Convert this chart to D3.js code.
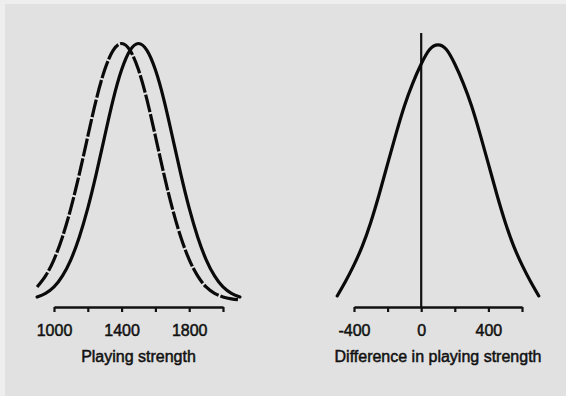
<!DOCTYPE html>
<html><head><meta charset="utf-8">
<script src="https://cdn.jsdelivr.net/npm/d3@7/dist/d3.min.js"></script>
<style>html,body{margin:0;padding:0;background:#e2e2e2;} svg{display:block}</style>
</head><body><svg id="c" width="566" height="396"></svg>
<script>
// ---- Data ----
// Left panel: two playing-strength distributions (relative density, peak = 1)
const leftTickValues = [1000, 1200, 1400, 1600, 1800, 2000];
const leftTickLabels = ["1000", "", "1400", "", "1800", ""];
const dashedX = [900, 950, 1000, 1050, 1100, 1150, 1200, 1250, 1300, 1350, 1400, 1450, 1500, 1550, 1600, 1650, 1700, 1750, 1800, 1850, 1900, 1950, 2000, 2050, 2100];
const dashedY = [0.076, 0.118, 0.180, 0.266, 0.375, 0.505, 0.648, 0.787, 0.900, 0.974, 1.000, 0.974, 0.900, 0.787, 0.648, 0.505, 0.375, 0.266, 0.180, 0.118, 0.076, 0.052, 0.038, 0.031, 0.027];
const solidX = [900, 950, 1000, 1050, 1100, 1150, 1200, 1250, 1300, 1350, 1400, 1450, 1500, 1550, 1600, 1650, 1700, 1750, 1800, 1850, 1900, 1950, 2000, 2050, 2100];
const solidY = [0.038, 0.052, 0.076, 0.118, 0.180, 0.266, 0.375, 0.505, 0.648, 0.787, 0.900, 0.974, 1.000, 0.974, 0.900, 0.787, 0.648, 0.505, 0.375, 0.266, 0.180, 0.118, 0.076, 0.052, 0.038];
const leftTitle = "Playing strength";

// Right panel: distribution of the difference
const rightTickValues = [-400, -200, 0, 200, 400, 600];
const rightTickLabels = ["-400", "", "0", "", "400", ""];
const diffX = [-500, -450, -400, -350, -300, -250, -200, -150, -100, -50, 0, 50, 100, 150, 200, 250, 300, 350, 400, 450, 500, 550, 600, 650, 700];
const diffY = [0.042, 0.098, 0.160, 0.232, 0.322, 0.428, 0.543, 0.657, 0.763, 0.850, 0.922, 0.977, 0.995, 0.977, 0.922, 0.850, 0.763, 0.657, 0.543, 0.428, 0.322, 0.232, 0.160, 0.098, 0.042];
const zeroLineX = 0;
const zeroLineTop = 1.04;
const rightTitle = "Difference in playing strength";

// ---- Drawing ----
const svg = d3.select("#c");
const FONT = "'Liberation Sans', Arial, Helvetica, sans-serif";

svg.append("rect").attr("x", 0).attr("y", 0).attr("width", 566).attr("height", 396).attr("fill", "#eeeeee");
svg.append("rect").attr("x", 5).attr("y", 4).attr("width", 561).attr("height", 392).attr("fill", "#e1e1e1");

const y = d3.scaleLinear().domain([0, 1]).range([307, 43.5]);
const xL = d3.scaleLinear().domain([1000, 2000]).range([54, 223]);
const xR = d3.scaleLinear().domain([-400, 600]).range([354, 522]);

function styleText(sel) {
  sel.attr("fill", "#111").attr("stroke", "#111").attr("stroke-width", 0.5)
    .style("font-family", FONT).style("font-size", "16px");
}

function drawAxis(x, tickValues, tickLabels, title) {
  const axis = d3.axisBottom(x)
    .tickValues(tickValues)
    .tickFormat((d, i) => tickLabels[i])
    .tickSizeInner(5).tickSizeOuter(0).tickPadding(12.5);
  const g = svg.append("g").attr("transform", "translate(0,307)").call(axis);
  g.select(".domain").attr("stroke", "#111").attr("stroke-width", 2.6);
  g.selectAll(".tick line").attr("stroke", "#111").attr("stroke-width", 2.2);
  styleText(g.selectAll(".tick text"));
  const r = x.range();
  styleText(svg.append("text").attr("x", (r[0] + r[1]) / 2).attr("y", 362)
    .attr("text-anchor", "middle").text(title));
}

function drawCurve(x, xs, ys, dashed) {
  const pts = xs.map((v, i) => [v, ys[i]]);
  const line = d3.line().x(d => x(d[0])).y(d => y(d[1])).curve(d3.curveNatural);
  const p = svg.append("path").attr("d", line(pts)).attr("fill", "none")
    .attr("stroke", "#0a0a0a").attr("stroke-width", 3.2);
  if (dashed) p.attr("stroke-dasharray", "18,2");
  else p.attr("stroke-linecap", "round");
}

drawAxis(xL, leftTickValues, leftTickLabels, leftTitle);
drawCurve(xL, dashedX, dashedY, true);
drawCurve(xL, solidX, solidY, false);

drawAxis(xR, rightTickValues, rightTickLabels, rightTitle);
svg.append("line").attr("x1", xR(zeroLineX)).attr("x2", xR(zeroLineX))
  .attr("y1", y(zeroLineTop)).attr("y2", y(0))
  .attr("stroke", "#111").attr("stroke-width", 2.2);
drawCurve(xR, diffX, diffY, false);
</script></body></html>
